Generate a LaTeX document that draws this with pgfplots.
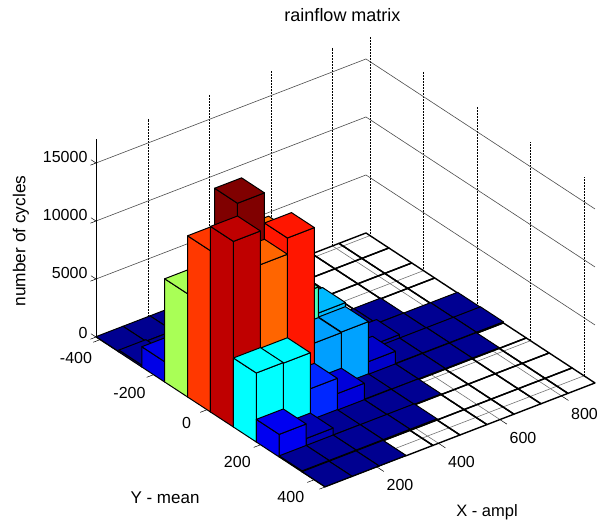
\documentclass[border=0pt]{standalone}
\usepackage{fontspec}
\setmainfont{Liberation Sans}
\usepackage{pgfplots}
\pgfplotsset{compat=1.18}
\pgfplotsset{colormap={mjet}{rgb255=(0,0,143) rgb255=(0,0,180) rgb255=(0,0,218) rgb255=(0,0,255) rgb255=(0,51,255) rgb255=(0,102,255) rgb255=(0,153,255) rgb255=(0,204,255) rgb255=(0,255,255) rgb255=(43,255,213) rgb255=(85,255,170) rgb255=(128,255,128) rgb255=(170,255,85) rgb255=(213,255,43) rgb255=(255,255,0) rgb255=(255,213,0) rgb255=(255,170,0) rgb255=(255,128,0) rgb255=(255,85,0) rgb255=(255,43,0) rgb255=(255,0,0) rgb255=(213,0,0) rgb255=(170,0,0) rgb255=(128,0,0)}}
\newcommand\B[3]{%
 \pgfmathsetmacro\xa{31+87.8*#1}%
 \pgfmathsetmacro\xb{31+87.8*(#1+1)}%
 \pgfmathsetmacro\ya{-415+85.6*#2}%
 \pgfmathsetmacro\yb{-415+85.6*(#2+1)}%
 \ifnum#3=0
 \edef\tmp{\noexpand\addplot3[draw=black,line width=1.4pt,line join=round,forget plot] coordinates {(\xa,\ya,0)(\xb,\ya,0)(\xb,\yb,0)(\xa,\yb,0)(\xa,\ya,0)};}\tmp
 \else
 \edef\tmp{\noexpand\addplot3[patch,patch type=rectangle,shader=faceted,faceted color=black,line width=1pt,line join=round,point meta=explicit,forget plot] coordinates {
 (\xa,\ya,0)[#3] (\xa,\yb,0)[#3] (\xa,\yb,#3)[#3] (\xa,\ya,#3)[#3]
 (\xa,\yb,0)[#3] (\xb,\yb,0)[#3] (\xb,\yb,#3)[#3] (\xa,\yb,#3)[#3]
 (\xa,\ya,#3)[#3] (\xb,\ya,#3)[#3] (\xb,\yb,#3)[#3] (\xa,\yb,#3)[#3]};}\tmp
 \fi}
\begin{document}
\begin{tikzpicture}
\path[use as bounding box] (0,0) rectangle (600pt,522pt);
\begin{axis}[
 at={(96pt,35pt)},anchor=south west,
 x={(0.3075pt,0.1185pt)},y={(0.2675pt,-0.1752pt)},z={(0pt,0.0116pt)},
 xmin=31,xmax=909,ymin=-415,ymax=441,zmin=0,zmax=17100,
 clip=false,
 colormap name=mjet,point meta min=0,point meta max=17100,
 axis line style={draw=none},
 xtick style={draw=none},ytick style={draw=none},
 ztick style={black,line width=0.5pt},
 tick align=outside,major tick length=6pt,
 xtick={200,400,600,800},ytick={-400,-200,0,200,400},ztick={0,5000,10000,15000},
 xtick pos=lower,ytick pos=lower,ztick pos=left,
 yticklabels={-400,-200,0\hspace{-6pt},200,400},
 scaled z ticks=false,
 /pgf/number format/assume math mode=true,
 /pgf/number format/1000 sep={},
 tick label style={font=\fontsize{16}{16}\selectfont},
 xticklabel style={xshift=11pt,yshift=-2pt},
 yticklabel style={xshift=-8pt,yshift=-1pt},
]
\pgfplotsset{dotgrid/.style={black,line width=0.45pt,dash pattern=on 0.7pt off 0.8pt},solidgrid/.style={black!70,line width=0.6pt},floorgrid/.style={black!55,line width=0.6pt},tk/.style={black,line width=0.5pt}}
% tick marks on the two near floor edges
\addplot3[tk,forget plot] coordinates {(200,441,0)(200,467,0)};
\addplot3[tk,forget plot] coordinates {(400,441,0)(400,467,0)};
\addplot3[tk,forget plot] coordinates {(600,441,0)(600,467,0)};
\addplot3[tk,forget plot] coordinates {(800,441,0)(800,467,0)};
\addplot3[tk,forget plot] coordinates {(31,-400,0)(9,-400,0)};
\addplot3[tk,forget plot] coordinates {(31,-200,0)(9,-200,0)};
\addplot3[tk,forget plot] coordinates {(31,0,0)(9,0,0)};
\addplot3[tk,forget plot] coordinates {(31,200,0)(9,200,0)};
\addplot3[tk,forget plot] coordinates {(31,400,0)(9,400,0)};
% grid: floor
\addplot3[floorgrid,forget plot] coordinates {(200,-415,0)(200,441,0)};
\addplot3[floorgrid,forget plot] coordinates {(400,-415,0)(400,441,0)};
\addplot3[floorgrid,forget plot] coordinates {(600,-415,0)(600,441,0)};
\addplot3[floorgrid,forget plot] coordinates {(800,-415,0)(800,441,0)};
\addplot3[floorgrid,forget plot] coordinates {(31,-400,0)(909,-400,0)};
\addplot3[floorgrid,forget plot] coordinates {(31,-200,0)(909,-200,0)};
\addplot3[floorgrid,forget plot] coordinates {(31,0,0)(909,0,0)};
\addplot3[floorgrid,forget plot] coordinates {(31,200,0)(909,200,0)};
\addplot3[floorgrid,forget plot] coordinates {(31,400,0)(909,400,0)};
% grid: back walls
\addplot3[dotgrid,forget plot] coordinates {(200,-415,0)(200,-415,17100)};
\addplot3[dotgrid,forget plot] coordinates {(400,-415,0)(400,-415,17100)};
\addplot3[dotgrid,forget plot] coordinates {(600,-415,0)(600,-415,17100)};
\addplot3[dotgrid,forget plot] coordinates {(800,-415,0)(800,-415,17100)};
\addplot3[dotgrid,forget plot] coordinates {(909,-400,0)(909,-400,17100)};
\addplot3[dotgrid,forget plot] coordinates {(909,-200,0)(909,-200,17100)};
\addplot3[dotgrid,forget plot] coordinates {(909,0,0)(909,0,17100)};
\addplot3[dotgrid,forget plot] coordinates {(909,200,0)(909,200,17100)};
\addplot3[dotgrid,forget plot] coordinates {(909,400,0)(909,400,17100)};
\addplot3[solidgrid,forget plot] coordinates {(31,-415,5000)(909,-415,5000)(909,441,5000)};
\addplot3[solidgrid,forget plot] coordinates {(31,-415,10000)(909,-415,10000)(909,441,10000)};
\addplot3[solidgrid,forget plot] coordinates {(31,-415,15000)(909,-415,15000)(909,441,15000)};
\addplot3[black,line width=0.6pt,forget plot] coordinates {(31,-415,0)(31,-415,17100)};
% row j=0 ... j=9 ; cell i=9 ... i=0 (back to front)
\B{9}{0}{0}\B{8}{0}{0}\B{7}{0}{0}\B{6}{0}{0}\B{5}{0}{0}\B{4}{0}{0}\B{3}{0}{30}\B{2}{0}{30}\B{1}{0}{30}\B{0}{0}{30}
\B{9}{1}{0}\B{8}{1}{0}\B{7}{1}{0}\B{6}{1}{0}\B{5}{1}{0}\B{4}{1}{30}\B{3}{1}{30}\B{2}{1}{30}\B{1}{1}{30}\B{0}{1}{170}
\B{9}{2}{0}\B{8}{2}{0}\B{7}{2}{0}\B{6}{2}{0}\B{5}{2}{100}\B{4}{2}{100}\B{3}{2}{100}\B{2}{2}{100}\B{1}{2}{300}\B{0}{2}{1750}
\B{9}{3}{0}\B{8}{3}{0}\B{7}{3}{60}\B{6}{3}{60}\B{5}{3}{300}\B{4}{3}{800}\B{3}{3}{1500}\B{2}{3}{3000}\B{1}{3}{6000}\B{0}{3}{8900}
\B{9}{4}{60}\B{8}{4}{60}\B{7}{4}{60}\B{6}{4}{400}\B{5}{4}{150}\B{4}{4}{4950}\B{3}{4}{7200}\B{2}{4}{12900}\B{1}{4}{17100}\B{0}{4}{13900}
\B{9}{5}{100}\B{8}{5}{100}\B{7}{5}{100}\B{6}{5}{100}\B{5}{5}{1150}\B{4}{5}{4600}\B{3}{5}{4550}\B{2}{5}{14500}\B{1}{5}{13100}\B{0}{5}{16000}
\B{9}{6}{0}\B{8}{6}{60}\B{7}{6}{60}\B{6}{6}{60}\B{5}{6}{60}\B{4}{6}{100}\B{3}{6}{1480}\B{2}{6}{2800}\B{1}{6}{5900}\B{0}{6}{5950}
\B{9}{7}{0}\B{8}{7}{0}\B{7}{7}{0}\B{6}{7}{0}\B{5}{7}{60}\B{4}{7}{60}\B{3}{7}{60}\B{2}{7}{100}\B{1}{7}{700}\B{0}{7}{1950}
\B{9}{8}{0}\B{8}{8}{0}\B{7}{8}{0}\B{6}{8}{0}\B{5}{8}{0}\B{4}{8}{100}\B{3}{8}{100}\B{2}{8}{100}\B{1}{8}{100}\B{0}{8}{100}
\B{9}{9}{0}\B{8}{9}{0}\B{7}{9}{0}\B{6}{9}{0}\B{5}{9}{0}\B{4}{9}{0}\B{3}{9}{0}\B{2}{9}{30}\B{1}{9}{30}\B{0}{9}{30}
\end{axis}
\node[font=\fontsize{18}{18}\selectfont] at (342.5pt,507pt) {rainflow matrix};
\node[font=\fontsize{17.3}{17}\selectfont,rotate=90] at (21pt,281pt) {number of cycles};
\node[font=\fontsize{17}{17}\selectfont] at (165pt,24pt) {Y - mean};
\node[font=\fontsize{16.5}{17}\selectfont] at (487pt,10pt) {X - ampl};
\end{tikzpicture}
\end{document}
